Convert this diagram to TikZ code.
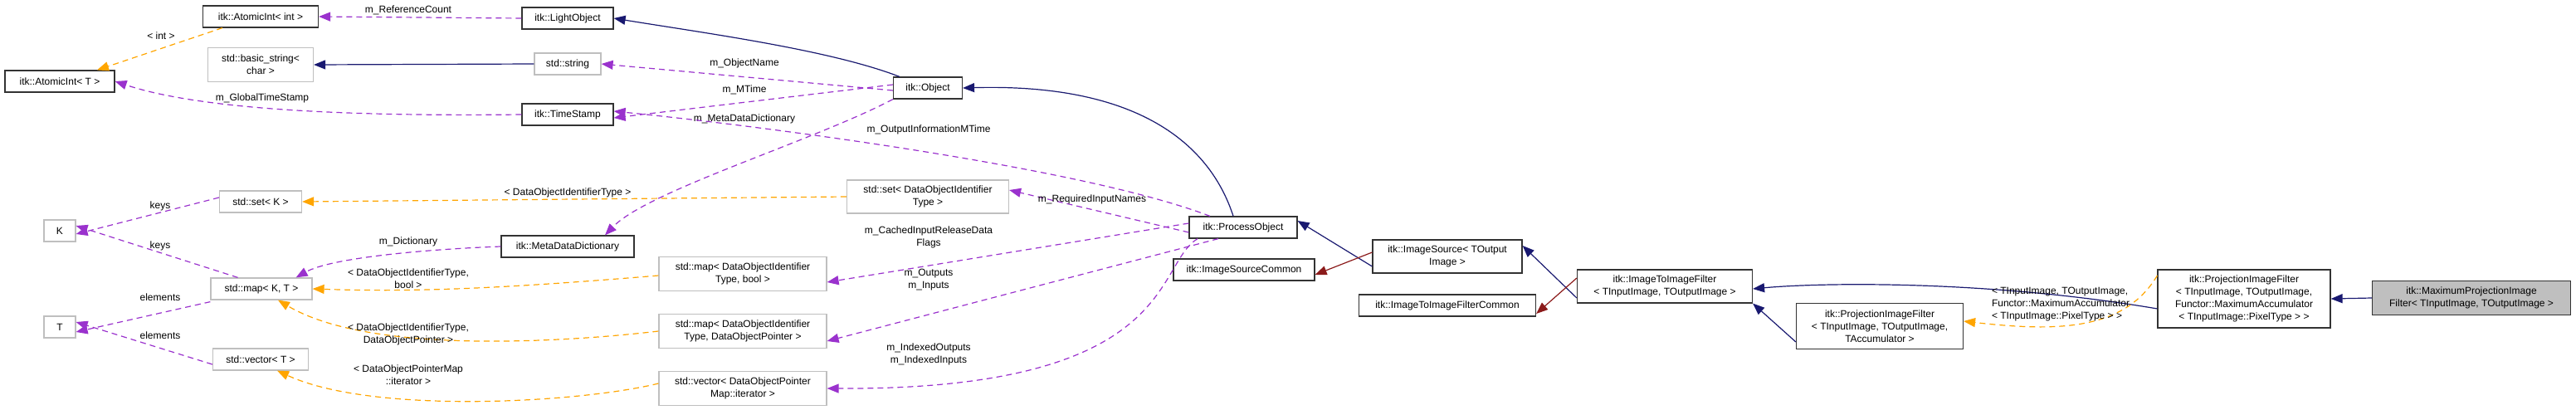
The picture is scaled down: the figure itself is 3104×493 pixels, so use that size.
\documentclass[tikz,border=0pt]{standalone}
\usepackage{fontspec}
\setmainfont{Liberation Sans}
\usetikzlibrary{arrows.meta}
\definecolor{nav}{HTML}{191970}
\definecolor{pur}{HTML}{9A32CD}
\definecolor{org}{HTML}{FFA500}
\definecolor{dred}{HTML}{8B1A1A}
\definecolor{gb}{HTML}{BFBFBF}
\begin{document}
\begin{tikzpicture}[x=1pt,y=-1pt,
 every node/.style={font=\fontsize{12}{15}\selectfont},
 box/.style={draw=black!80,line width=1.2pt,fill=white,align=center,inner sep=2pt,minimum height=#1},
 box/.default=26,
 gbox/.style={box=#1,draw=gb},
 gbox/.default=26,
 lbl/.style={align=center,inner sep=1pt},
 inh/.style={draw=nav,line width=1.2pt,-{Triangle[length=14pt,width=11pt,fill=nav]}},
 priv/.style={draw=dred,line width=1.2pt,-{Triangle[length=14pt,width=11pt,fill=dred]}},
 use/.style={draw=pur,line width=1.2pt,dash pattern=on 7pt off 5pt,-{Triangle[length=14pt,width=11pt,fill=pur]}},
 tpl/.style={draw=org,line width=1.2pt,dash pattern=on 7pt off 5pt,-{Triangle[length=14pt,width=11pt,fill=org]}}]
\useasboundingbox (0,0) rectangle (3104,493);
% nodes
\node[box,minimum width=139] (ai) at (314,20) {itk::AtomicInt< int >};
\node[box,minimum width=110] (lo) at (684,22) {itk::LightObject};
\node[gbox=41,minimum width=127] (bs) at (314,78) {std::basic\_string<\\char >};
\node[gbox,minimum width=80] (ss) at (684,77) {std::string};
\node[box,minimum width=132] (at) at (72,98) {itk::AtomicInt< T >};
\node[box,minimum width=110] (ts) at (684,138) {itk::TimeStamp};
\node[gbox,minimum width=99] (sk) at (314,243) {std::set< K >};
\node[gbox,minimum width=38] (K) at (72,278) {K};
\node[box,minimum width=160] (md) at (684,297) {itk::MetaDataDictionary};
\node[gbox,minimum width=122] (mkt) at (315,348) {std::map< K, T >};
\node[gbox,minimum width=38] (T) at (72,394) {T};
\node[gbox,minimum width=115] (vt) at (314,433) {std::vector< T >};
\node[box,minimum width=83] (ob) at (1118,106) {itk::Object};
\node[gbox=40,minimum width=195] (sd) at (1118,237) {std::set< DataObjectIdentifier\\Type >};
\node[box,minimum width=130] (po) at (1498,274) {itk::ProcessObject};
\node[box,minimum width=170] (isc) at (1499,325) {itk::ImageSourceCommon};
\node[gbox=41,minimum width=202] (mb) at (895,330) {std::map< DataObjectIdentifier\\Type, bool >};
\node[gbox=41,minimum width=202] (mp) at (895,399) {std::map< DataObjectIdentifier\\Type, DataObjectPointer >};
\node[gbox=41,minimum width=202] (vi) at (895,468) {std::vector< DataObjectPointer\\Map::iterator >};
\node[box=40,minimum width=180] (is) at (1744,309) {itk::ImageSource< TOutput\\Image >};
\node[box,minimum width=213] (iifc) at (1744,368) {itk::ImageToImageFilterCommon};
\node[box=40,minimum width=211] (iif) at (2006,345) {itk::ImageToImageFilter\\< TInputImage, TOutputImage >};
\node[box=55,minimum width=201] (pa) at (2265,393) {itk::ProjectionImageFilter\\< TInputImage, TOutputImage,\\TAccumulator >};
\node[box=70,minimum width=208] (pf) at (2704,360) {itk::ProjectionImageFilter\\< TInputImage, TOutputImage,\\Functor::MaximumAccumulator\\< TInputImage::PixelType > >};
\node[box=41,minimum width=239,fill=gb] (mx) at (2978,359) {itk::MaximumProjectionImage\\Filter< TInputImage, TOutputImage >};
% edges
\draw[use] (lo.west) -- (ai.east);
\node[lbl] at (492,12) {m\_ReferenceCount};
\draw[tpl] ([xshift=-46]ai.south) -- ([xshift=45]at.north);
\node[lbl] at (194,43) {< int >};
\draw[inh] (ss.west) -- (bs.east);
\draw[use] (ts.west) .. controls (450,140) and (250,135) .. (at.east);
\node[lbl] at (316,118) {m\_GlobalTimeStamp};
\draw[inh] ([xshift=8]ob.north west) .. controls (1000,60) and (850,40) .. (lo.east);
\draw[use] ([yshift=-3]ob.west) -- (ss.east);
\node[lbl] at (897,76) {m\_ObjectName};
\draw[use] ([yshift=4]ob.west) -- ([yshift=-4]ts.east);
\node[lbl] at (897,108) {m\_MTime};
\draw[use] (ob.south west) .. controls (980,170) and (780,230) .. ([xshift=45]md.north);
\node[lbl] at (897,143) {m\_MetaDataDictionary};
\draw[use] ([xshift=-40]po.north) .. controls (1300,200) and (900,150) .. ([yshift=4]ts.east);
\node[lbl] at (1119,156) {m\_OutputInformationMTime};
\draw[inh] ([xshift=-12]po.north) .. controls (1460,180) and (1380,100) .. (ob.east);
\draw[use] ([yshift=-6]po.west) -- ([yshift=8]sd.east);
\node[lbl] at (1316,240) {m\_RequiredInputNames};
\draw[tpl] (sd.west) -- (sk.east);
\node[lbl] at (684,232) {< DataObjectIdentifierType >};
\draw[use] ([yshift=5]sk.west) -- ([yshift=-4]K.east);
\node[lbl] at (193,248) {keys};
\draw[use] ([xshift=-90]mkt.north east) -- ([yshift=6]K.east);
\node[lbl] at (193,296) {keys};
\draw[use] ([yshift=-2]mkt.south west) -- ([yshift=-6]T.east);
\node[lbl] at (193,358) {elements};
\draw[use] ([yshift=-6]vt.west) -- ([yshift=6]T.east);
\node[lbl] at (193,404) {elements};
\draw[use] (md.west) .. controls (520,300) and (400,310) .. ([xshift=-20]mkt.north east);
\node[lbl] at (492,291) {m\_Dictionary};
\draw[tpl] ([yshift=-2]mb.west) .. controls (600,348) and (500,352) .. (mkt.east);
\node[lbl] at (492,336) {< DataObjectIdentifierType,\\bool >};
\draw[tpl] (mp.west) .. controls (700,410) and (450,430) .. ([xshift=20]mkt.south);
\node[lbl] at (492,403) {< DataObjectIdentifierType,\\DataObjectPointer >};
\draw[tpl] ([yshift=6]vi.west) .. controls (700,485) and (450,500) .. ([xshift=20]vt.south);
\node[lbl] at (492,452) {< DataObjectPointerMap\\::iterator >};
\draw[use] ([yshift=5]po.west) -- ([yshift=-10]mb.east);
\node[lbl] at (1119,286) {m\_CachedInputReleaseData\\Flags};
\draw[use] ([xshift=-30]po.south) -- ([yshift=-12]mp.east);
\node[lbl] at (1119,337) {m\_Outputs\\m\_Inputs};
\draw[use] ([xshift=-55]po.south) .. controls (1390,320) and (1420,470) .. (vi.east);
\node[lbl] at (1119,427) {m\_IndexedOutputs\\m\_IndexedInputs};
\draw[inh] ([yshift=-12]is.west) -- ([yshift=8]po.east);
\draw[priv] ([yshift=5]is.west) -- ([yshift=-6]isc.east);
\draw[inh] ([yshift=-14]iif.west) -- ([yshift=13]is.east);
\draw[priv] ([yshift=10]iif.west) -- ([yshift=-10]iifc.east);
\draw[inh] ([yshift=-12]pf.west) .. controls (2400,338) and (2200,340) .. ([yshift=-3]iif.east);
\draw[inh] ([yshift=-19]pa.west) -- (iif.south east);
\draw[tpl] ([yshift=28]pf.west) .. controls (2560,398) and (2480,400) .. ([yshift=6]pa.east);
\node[lbl,align=left] at (2483,367) {< TInputImage, TOutputImage,\\Functor::MaximumAccumulator\\< TInputImage::PixelType > >};
\draw[inh] (mx.west) -- (pf.east);
\end{tikzpicture}
\end{document}
